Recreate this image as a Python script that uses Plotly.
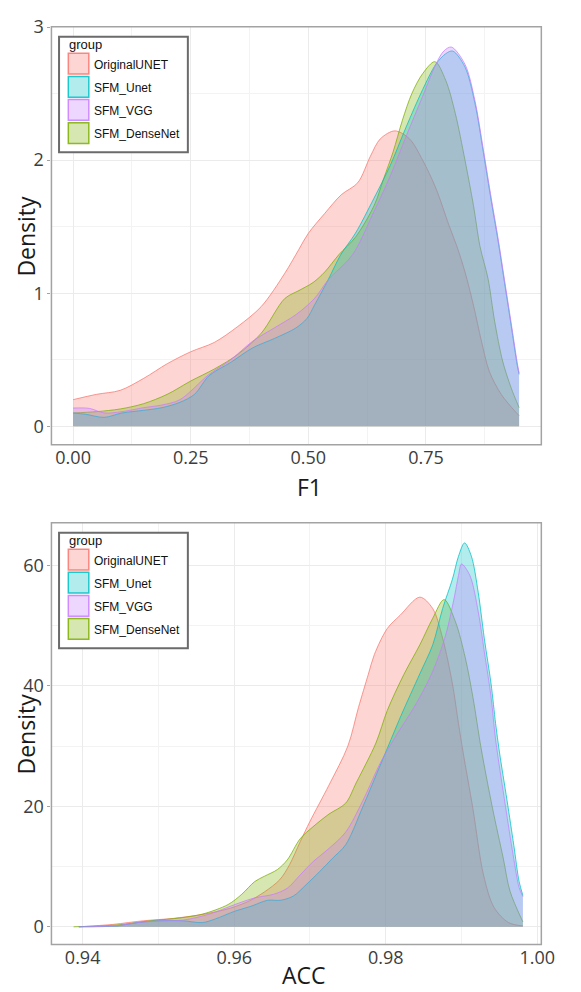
import plotly.graph_objects as go

W, H = 581, 992

GROUPS = ["OriginalUNET", "SFM_Unet", "SFM_VGG", "SFM_DenseNet"]
COLORS = ["#F8766D", "#00BFC4", "#C77CFF", "#7CAE00"]
DRAW_ORDER = [0, 3, 1, 2]

# ---------------- F1 density curves (top panel) ----------------
F1_ORIG_X = [0.0, 0.05, 0.10, 0.15, 0.20, 0.25, 0.30, 0.35, 0.40, 0.45, 0.48, 0.50, 0.535, 0.57, 0.605,
             0.632, 0.653, 0.684, 0.715, 0.743, 0.771, 0.799, 0.816, 0.833, 0.851, 0.868, 0.885, 0.91,
             0.9375, 0.948]
F1_ORIG_Y = [0.20, 0.24, 0.27, 0.36, 0.47, 0.56, 0.63, 0.75, 0.90, 1.15, 1.33, 1.45, 1.60, 1.74, 1.83,
             2.03, 2.16, 2.22, 2.16, 2.00, 1.79, 1.51, 1.35, 1.16, 0.91, 0.64, 0.41, 0.24, 0.12, 0.08]

F1_UNET_X = [0.0, 0.027, 0.066, 0.104, 0.15, 0.189, 0.227, 0.258, 0.289, 0.335, 0.382, 0.428, 0.474,
             0.497, 0.513, 0.542, 0.569, 0.60, 0.639, 0.674, 0.708, 0.743, 0.771, 0.792, 0.807, 0.833,
             0.854, 0.872, 0.889, 0.903, 0.917, 0.931, 0.944, 0.948]
F1_UNET_Y = [0.10, 0.09, 0.067, 0.10, 0.12, 0.14, 0.18, 0.24, 0.38, 0.48, 0.59, 0.66, 0.74, 0.81, 0.91,
             1.10, 1.29, 1.45, 1.71, 1.96, 2.25, 2.53, 2.72, 2.80, 2.82, 2.70, 2.43, 2.06, 1.69, 1.40,
             1.08, 0.76, 0.46, 0.39]

F1_VGG_X = [0.0, 0.035, 0.066, 0.104, 0.15, 0.189, 0.227, 0.289, 0.335, 0.382, 0.428, 0.474, 0.513,
            0.542, 0.594, 0.639, 0.674, 0.708, 0.743, 0.771, 0.788, 0.804, 0.833, 0.854, 0.872, 0.889,
            0.903, 0.917, 0.931, 0.944, 0.948]
F1_VGG_Y = [0.137, 0.134, 0.10, 0.11, 0.14, 0.16, 0.20, 0.39, 0.50, 0.64, 0.74, 0.84, 0.96, 1.10, 1.29,
            1.61, 1.88, 2.18, 2.48, 2.72, 2.82, 2.85, 2.72, 2.45, 2.08, 1.71, 1.42, 1.10, 0.78, 0.48, 0.40]

F1_DENSE_X = [0.0, 0.05, 0.10, 0.15, 0.20, 0.25, 0.30, 0.35, 0.40, 0.45, 0.48, 0.51, 0.535, 0.565,
              0.60, 0.64, 0.66, 0.68, 0.70, 0.72, 0.743, 0.769, 0.792, 0.8125, 0.833, 0.851, 0.865,
              0.882, 0.896, 0.913, 0.931, 0.948]
F1_DENSE_Y = [0.10, 0.11, 0.13, 0.17, 0.24, 0.34, 0.43, 0.54, 0.70, 0.96, 1.02, 1.08, 1.16, 1.29, 1.42,
              1.66, 1.86, 2.06, 2.30, 2.50, 2.65, 2.74, 2.60, 2.35, 2.00, 1.66, 1.35, 1.11, 0.79, 0.49,
              0.29, 0.14]

# ---------------- ACC density curves (bottom panel) ----------------
ACC_ORIG_X = [0.9395, 0.944, 0.948, 0.952, 0.955, 0.958, 0.960, 0.962, 0.964, 0.966, 0.9673, 0.9687,
              0.970, 0.9725, 0.975, 0.9764, 0.9777, 0.9785, 0.9802, 0.9819, 0.9845, 0.9862, 0.9875,
              0.9888, 0.9896, 0.9902, 0.9915, 0.9929, 0.9943, 0.9962, 0.9981]
ACC_ORIG_Y = [0.0, 0.4, 1.0, 1.4, 1.9, 2.6, 3.3, 4.3, 5.8, 7.8, 10.3, 14.1, 17.5, 23.5, 30.0, 36.4, 41.9,
              45.2, 49.5, 51.7, 54.7, 52.8, 47.9, 40.3, 33.7, 29.0, 19.6, 8.6, 3.2, 0.7, 0.15]

ACC_UNET_X = [0.9395, 0.9446, 0.9472, 0.9502, 0.9532, 0.9558, 0.9575, 0.9601, 0.9622, 0.9644, 0.9661,
              0.9678, 0.9695, 0.9713, 0.9730, 0.9747, 0.977, 0.979, 0.980, 0.982, 0.9845, 0.9862, 0.9875,
              0.9888, 0.9896, 0.9904, 0.9913, 0.9922, 0.9930, 0.9939, 0.9945, 0.9950, 0.9960, 0.9969,
              0.9976, 0.9981]
ACC_UNET_Y = [0.0, 0.15, 0.7, 1.0, 1.0, 0.7, 1.3, 2.6, 3.4, 4.4, 4.4, 5.1, 7.0, 9.2, 11.4, 13.6, 20.0,
              26.0, 29.0, 35.0, 42.0, 46.8, 52.8, 57.7, 61.5, 63.7, 61.5, 55.5, 47.9, 40.3, 33.7, 29.0,
              21.0, 13.5, 7.5, 5.2]

ACC_VGG_X = [0.9395, 0.9446, 0.9472, 0.9502, 0.9532, 0.9567, 0.9601, 0.9627, 0.9652, 0.9670, 0.9687,
             0.9704, 0.9725, 0.9747, 0.977, 0.9794, 0.9815, 0.984, 0.9862, 0.9879, 0.989, 0.9896, 0.9900,
             0.9911, 0.9922, 0.9930, 0.9939, 0.9945, 0.9958, 0.9968, 0.9976, 0.9981]
ACC_VGG_Y = [0.0, 0.2, 0.7, 1.0, 1.1, 2.1, 3.7, 4.8, 5.4, 6.4, 8.6, 10.8, 13.0, 15.7, 21.0, 27.5, 32.0,
             37.0, 42.4, 48.4, 54.4, 58.3, 60.2, 58.3, 52.3, 45.7, 38.1, 31.0, 20.0, 12.0, 6.5, 5.0]

ACC_DENSE_X = [0.9388, 0.9445, 0.949, 0.953, 0.9558, 0.9592, 0.961, 0.9627, 0.964, 0.9657, 0.967,
               0.9687, 0.9704, 0.9725, 0.9747, 0.9761, 0.9787, 0.9802, 0.9824, 0.9845, 0.9862, 0.9877,
               0.9892, 0.9905, 0.9915, 0.9926, 0.9941, 0.9955, 0.9964, 0.9981]
ACC_DENSE_Y = [0.0, 0.3, 1.0, 1.5, 2.1, 3.7, 5.4, 7.5, 8.4, 9.5, 11.1, 14.6, 16.6, 18.7, 20.5, 23.9, 30.5,
               35.9, 41.9, 46.8, 51.2, 54.3, 50.6, 44.6, 38.1, 29.5, 19.6, 11.4, 5.9, 0.8]

F1_SERIES = [(F1_ORIG_X, F1_ORIG_Y), (F1_UNET_X, F1_UNET_Y), (F1_VGG_X, F1_VGG_Y), (F1_DENSE_X, F1_DENSE_Y)]
ACC_SERIES = [(ACC_ORIG_X, ACC_ORIG_Y), (ACC_UNET_X, ACC_UNET_Y), (ACC_VGG_X, ACC_VGG_Y),
              (ACC_DENSE_X, ACC_DENSE_Y)]

F1_TICKS = [0.0, 0.25, 0.50, 0.75]
F1_YTICKS = [0, 1, 2, 3]
ACC_TICKS = [0.94, 0.96, 0.98, 1.00]
ACC_YTICKS = [0, 20, 40, 60]


def rgba(hex_color, a):
    h = hex_color.lstrip("#")
    r, g, b = int(h[0:2], 16), int(h[2:4], 16), int(h[4:6], 16)
    return f"rgba({r},{g},{b},{a})"


def px(xp):
    return xp / W


def py(yp):
    return 1 - yp / H


fig = go.Figure()

for series, xa, ya in [(F1_SERIES, "x", "y"), (ACC_SERIES, "x2", "y2")]:
    for i in DRAW_ORDER:
        name, color = GROUPS[i], COLORS[i]
        xs, ys = series[i]
        fig.add_trace(go.Scatter(
            x=xs, y=ys, name=name, mode="lines", xaxis=xa, yaxis=ya,
            line=dict(color=rgba(color, 0.75), width=1, shape="spline", smoothing=0.9),
            fill="tozeroy", fillcolor=rgba(color, 0.3), showlegend=False,
            hoverinfo="x+y+name",
        ))

# panel geometry (page pixels)
PL, PR = 52.7, 554.7
TOP_T, TOP_B = 15, 438
BOT_T, BOT_B = 517, 944

GRID = "#ebebeb"
MINOR = "#f3f3f3"
BORDER = "#a3a3a3"
TICKFONT = dict(family="Open Sans", size=18, color="#3d3d3d")

xcommon = dict(showgrid=True, gridcolor=GRID, gridwidth=1, zeroline=False, showline=False,
               ticks="", tickfont=TICKFONT, tickformat=".2f", tickmode="array",
               ticklabeloverflow="allow")
ycommon = dict(showgrid=True, gridcolor=GRID, gridwidth=1, zeroline=False, showline=False,
               ticks="outside", ticklen=3, tickcolor=BORDER, tickfont=TICKFONT, tickmode="array",
               ticklabeloverflow="allow")

fig.update_layout(
    width=W, height=H, margin=dict(l=0, r=0, t=0, b=0),
    paper_bgcolor="white", plot_bgcolor="white", showlegend=False,
    xaxis=dict(domain=[px(PL), px(PR)], range=[-0.0461, 0.9953], anchor="y", tickvals=F1_TICKS,
               minor=dict(dtick=0.125, tick0=0, showgrid=True, gridcolor=MINOR, ticks=""), **xcommon),
    yaxis=dict(domain=[py(TOP_B), py(TOP_T)], range=[-0.1385, 3.002], anchor="x", tickvals=F1_YTICKS,
               minor=dict(dtick=0.5, tick0=0, showgrid=True, gridcolor=MINOR, ticks=""), **ycommon),
    xaxis2=dict(domain=[px(PL), px(PR)], range=[0.93588, 1.00053], anchor="y2", tickvals=ACC_TICKS,
                minor=dict(dtick=0.01, tick0=0.94, showgrid=True, gridcolor=MINOR, ticks=""), **xcommon),
    yaxis2=dict(domain=[py(BOT_B), py(BOT_T)], range=[-2.95, 67.05], anchor="x2", tickvals=ACC_YTICKS,
                minor=dict(dtick=10, tick0=0, showgrid=True, gridcolor=MINOR, ticks=""), **ycommon),
)

TITLEFONT = dict(family="Open Sans", size=23, color="#1a1a1a")
annotations = [
    dict(text="F1", x=0.527, y=py(481), xref="x domain", yref="paper", showarrow=False,
         xanchor="center", yanchor="middle", font=TITLEFONT),
    dict(text="ACC", x=0.515, y=py(975), xref="x2 domain", yref="paper", showarrow=False,
         xanchor="center", yanchor="middle", font=TITLEFONT),
    dict(text="Density", x=px(26.5), y=py((TOP_T + TOP_B) / 2), xref="paper", yref="paper",
         showarrow=False, textangle=-90, xanchor="center", yanchor="middle", font=TITLEFONT),
    dict(text="Density", x=px(26.5), y=py((BOT_T + BOT_B) / 2), xref="paper", yref="paper",
         showarrow=False, textangle=-90, xanchor="center", yanchor="middle", font=TITLEFONT),
]

shapes = []
# panel borders
for xr, yr in (("x domain", "y domain"), ("x2 domain", "y2 domain")):
    shapes.append(dict(type="rect", xref=xr, yref=yr, x0=0, x1=1, y0=0, y1=1,
                       line=dict(color=BORDER, width=1.5), fillcolor="rgba(0,0,0,0)", layer="above"))

LEGFONT = dict(family="Liberation Sans", size=12, color="#111111")
for panel_top in (TOP_T, BOT_T):
    L = 60.5
    T = panel_top + 10
    shapes.append(dict(type="rect", xref="paper", yref="paper", x0=px(L), x1=px(L + 132),
                       y0=py(T + 117), y1=py(T), line=dict(color="#6b6b6b", width=2),
                       fillcolor="white", layer="above"))
    annotations.append(dict(text="group", x=px(L + 8), y=py(T + 7.8), xref="paper", yref="paper",
                            showarrow=False, xanchor="left", yanchor="middle",
                            font=dict(family="Liberation Sans", size=13, color="#111111")))
    for k, (name, color) in enumerate(zip(GROUPS, COLORS)):
        top = T + 16.8 + 23.4 * k
        shapes.append(dict(type="rect", xref="paper", yref="paper", x0=px(L + 9.5), x1=px(L + 30.5),
                           y0=py(top + 21), y1=py(top), line=dict(color=rgba(color, 0.85), width=1.5),
                           fillcolor=rgba(color, 0.3), layer="above"))
        annotations.append(dict(text=name, x=px(L + 34), y=py(top + 11.5), xref="paper", yref="paper",
                                showarrow=False, xanchor="left", yanchor="middle", font=LEGFONT))

fig.update_layout(annotations=annotations, shapes=shapes)

# remove the default 8px page margin so the figure fills the 581x992 window exactly
fig.write_html("out.html", config={"displayModeBar": False},
               post_script="document.body.style.margin='0';")
